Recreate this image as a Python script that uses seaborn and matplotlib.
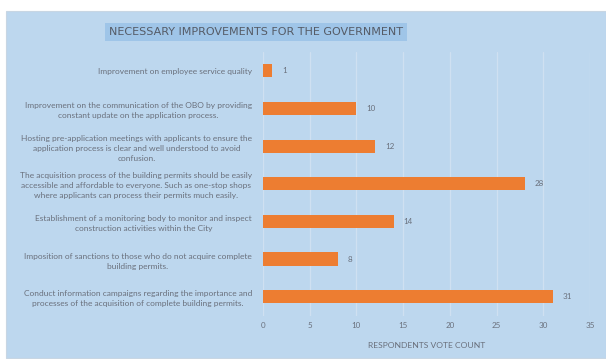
import matplotlib
matplotlib.use("Agg")
import matplotlib.pyplot as plt
import seaborn as sns
import pandas as pd
from matplotlib.patches import Rectangle

categories = [
    "Improvement on employee service quality",
    "Improvement on the communication of the OBO by providing\nconstant update on the application process.",
    "Hosting pre-application meetings with applicants to ensure the\napplication process is clear and well understood to avoid\nconfusion.",
    "The acquisition process of the building permits should be easily\naccessible and affordable to everyone. Such as one-stop shops\nwhere applicants can process their permits much easily.",
    "Establishment of a monitoring body to monitor and inspect\nconstruction activities within the City",
    "Imposition of sanctions to those who do not acquire complete\nbuilding permits.",
    "Conduct information campaigns regarding the importance and\nprocesses of the acquisition of complete building permits.",
]
votes = [1, 10, 12, 28, 14, 8, 31]
x_ticks = [0, 5, 10, 15, 20, 25, 30, 35]
title = "NECESSARY IMPROVEMENTS FOR THE GOVERNMENT"
x_label = "RESPONDENTS VOTE COUNT"

BG = "#BDD7EE"
ORANGE = "#ED7D31"
TXT = "#6a707c"
GRID = "#cfe0f1"

sns.set_theme(style="white")
plt.rcParams["font.family"] = ["Lato", "DejaVu Sans"]

df = pd.DataFrame({"category": categories, "votes": votes})

fig = plt.figure(figsize=(6.06, 3.59), dpi=100, facecolor="white")
fig.patches.append(Rectangle((6 / 606, 1 / 359), 1 - 6 / 606, 1 - 12 / 359,
                             transform=fig.transFigure, facecolor=BG,
                             edgecolor="#c8d6e3", linewidth=0.8, zorder=-10))

ax = fig.add_axes([263 / 606, 1 - 315.5 / 359, 327 / 606, (315.5 - 52) / 359])
ax.set_zorder(5)
ax.set_facecolor(BG)

sns.barplot(data=df, x="votes", y="category", orient="h", color=ORANGE,
            width=0.35, saturation=1, ax=ax, zorder=3)
for p in ax.patches:
    p.set_edgecolor("none")

ax.bar_label(ax.containers[0], padding=7, fontsize=5.8, color=TXT)

ax.set_xlim(0, 35)
ax.set_ylim(6.5, -0.5)
ax.set_xticks(x_ticks)
ax.set_xticklabels([str(t) for t in x_ticks], fontsize=5.8, color=TXT)
ax.tick_params(axis="x", length=0, pad=5)
ax.tick_params(axis="y", length=0, pad=8)
for lab in ax.get_yticklabels():
    lab.set_fontsize(6.0)
    lab.set_color(TXT)
    lab.set_multialignment("center")
    lab.set_linespacing(1.5)

ax.xaxis.grid(True, color=GRID, linewidth=0.9, zorder=0)
ax.yaxis.grid(False)
for s in ax.spines.values():
    s.set_visible(False)

ax.set_ylabel("")
ax.set_xlabel(x_label, fontsize=6.1, color=TXT, labelpad=9)

fig.text(256 / 606, 1 - 32 / 359, title, ha="center", va="center",
         fontsize=8.0, color="#555b66", family=["DejaVu Sans"], zorder=10,
         bbox=dict(boxstyle="square,pad=0.38", facecolor="#9fc5e8",
                   edgecolor="none"))

fig.savefig("out.png", dpi=100, facecolor="white")
